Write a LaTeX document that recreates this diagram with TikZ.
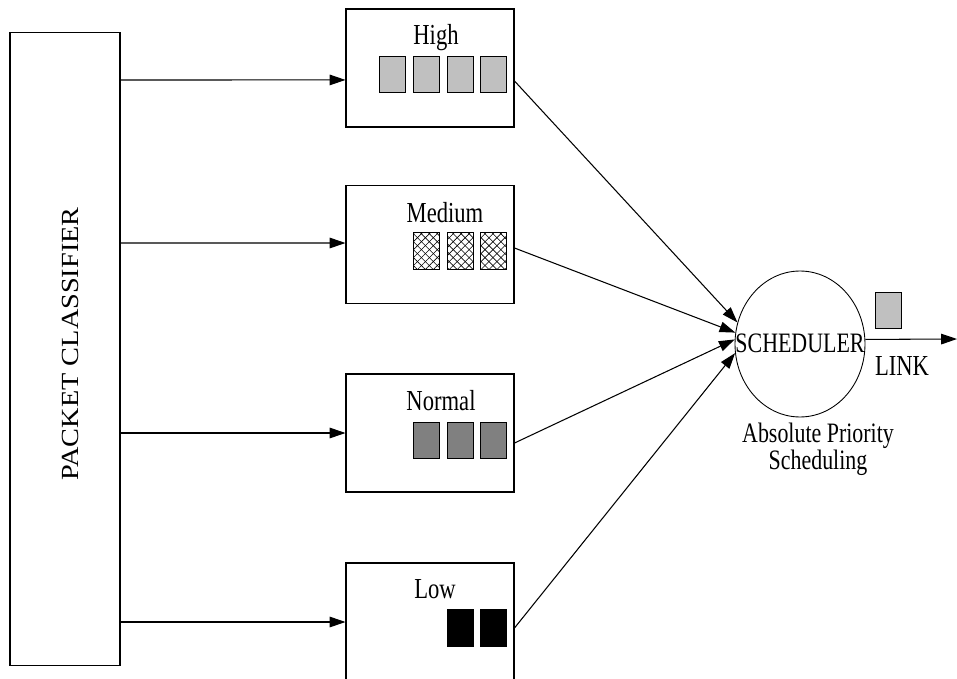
\documentclass[tikz,border=0pt]{standalone}
\usepackage{fontspec}
\setmainfont[FakeStretch=0.78]{Liberation Serif}
\newfontfamily\clsfont[FakeStretch=1.15]{Liberation Serif}
\usetikzlibrary{arrows.meta,shapes.geometric,patterns.meta}

\tikzset{
	qbox/.style={draw, line width=0.6pt, minimum width=3.36cm, minimum height=2.36cm, inner sep=0pt},
	arr/.style={line width=0.6pt, -{Triangle[length=9pt,width=6pt]}},
	lbl/.style={anchor=base, inner sep=0pt, font=\fontsize{16.5}{18}\selectfont},
	pkt/.style={draw, line width=0.5pt},
	hatchpkt/.style={draw, line width=0.5pt, pattern={Lines[angle=45,distance=3.2pt,line width=0.35pt]},
		postaction={pattern={Lines[angle=-45,distance=3.2pt,line width=0.35pt]}}},
}

\begin{document}
\begin{tikzpicture}[x=0.02cm, y=-0.02cm]
	\useasboundingbox (0,0) rectangle (957,679);
	% classifier and queues
	\node [draw, line width=0.6pt, minimum width=2.2cm, minimum height=12.68cm, inner sep=0pt] (cls) at (65,349) {};
	\node [rotate=90, inner sep=0pt, font=\clsfont\fontsize{14}{16}\selectfont] (clslbl) at (70,344) {PACKET CLASSIFIER};
	\node [qbox] (high) at (430,68) {};
	\node [qbox] (medium) at (430,244.5) {};
	\node [qbox] (normal) at (430,433) {};
	\node [qbox] (low) at (430,622) {};
	\node [lbl] (highlbl) at (436,45) {High};
	\node [lbl] (mediumlbl) at (445,222) {Medium};
	\node [lbl] (normallbl) at (441,410) {Normal};
	\node [lbl] (lowlbl) at (435,598) {Low};
	% scheduler
	\node [draw, ellipse, line width=0.5pt, minimum width=2.6cm, minimum height=2.92cm, inner sep=0pt] (sched) at (800,344) {};
	\node [lbl, font=\fontsize{16}{18}\selectfont] (schedtxt) at (800,352) {SCHEDULER};
	\node [lbl] (linklbl) at (902,375) {LINK};
	\node [inner sep=0pt, align=center, font=\fontsize{16}{12.5}\selectfont] (abslbl) at (818,449) {Absolute Priority\\Scheduling};
	\coordinate (linkend) at (957,339);
	% packets
	\path [pkt, fill={rgb,255:red,192;green,192;blue,192}] (379,56) rectangle (405,92);
	\path [pkt, fill={rgb,255:red,192;green,192;blue,192}] (413,56) rectangle (439,92);
	\path [pkt, fill={rgb,255:red,192;green,192;blue,192}] (447,56) rectangle (473,92);
	\path [pkt, fill={rgb,255:red,192;green,192;blue,192}] (480,56) rectangle (506,92);
	\path [hatchpkt] (413,232) rectangle (439,269);
	\path [hatchpkt] (447,232) rectangle (473,269);
	\path [hatchpkt] (480,232) rectangle (506,269);
	\path [pkt, fill={rgb,255:red,128;green,128;blue,128}] (413,422) rectangle (439,458);
	\path [pkt, fill={rgb,255:red,128;green,128;blue,128}] (447,422) rectangle (473,458);
	\path [pkt, fill={rgb,255:red,128;green,128;blue,128}] (480,422) rectangle (506,458);
	\path [pkt, fill=black] (447,609) rectangle (473,646);
	\path [pkt, fill=black] (480,609) rectangle (506,646);
	\path [pkt, fill={rgb,255:red,192;green,192;blue,192}] (875,292) rectangle (901,328);
	% connectors
	\draw [arr] (cls.east |- 0,80) -- ([yshift=-6.8pt]high.west);
	\draw [arr] (cls.east |- 0,243) -- ([yshift=0.85pt]medium.west);
	\draw [arr] (cls.east |- 0,433) -- (normal.west);
	\draw [arr] (cls.east |- 0,622) -- (low.west);
	\draw [arr] ([yshift=-7.4pt]high.east) -- (sched.161);
	\draw [arr] ([yshift=-2pt]medium.east) -- (sched.170);
	\draw [arr] ([yshift=-5.7pt]normal.east) -- (sched.176);
	\draw [arr] ([yshift=-3.4pt]low.east) -- (sched.188);
	\draw [arr] (sched.4) -- (linkend);
\end{tikzpicture}
\end{document}
